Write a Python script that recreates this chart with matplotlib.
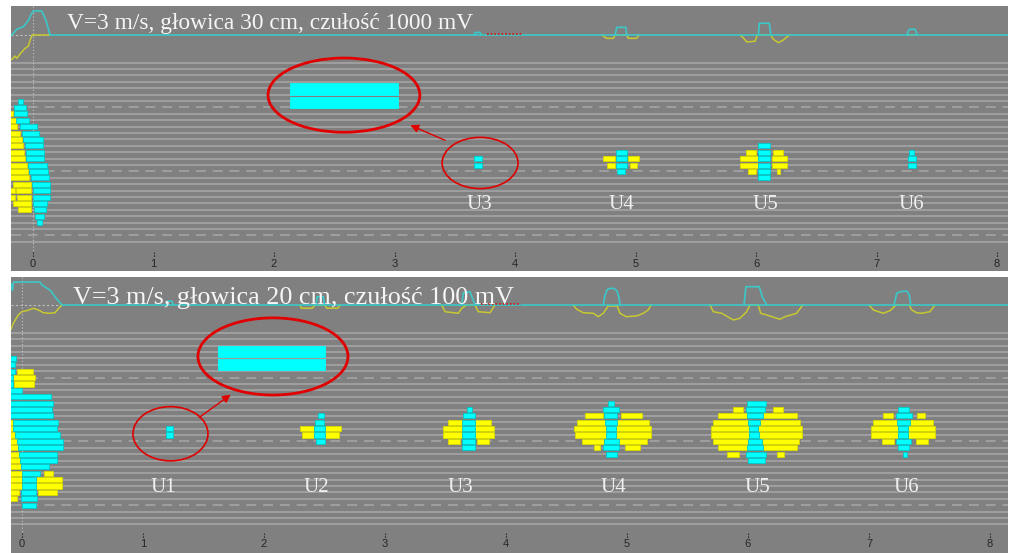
import matplotlib
matplotlib.use('Agg')
import matplotlib.pyplot as plt
from matplotlib.patches import Ellipse

# ---------------- panel gorny: glowica 30 cm, czulosc 1000 mV
top_title = 'V=3 m/s, głowica 30 cm, czułość 1000 mV'
top_grid_rows = list(range(0, 29))
top_dashed_rows = [7, 17, 27]

# (wiersz, x_od, x_do)
top_cyan = [
    (6, -0.122, -0.085), (7, -0.158, -0.058), (8, -0.155, -0.052), (9, -0.141, -0.031),
    (10, -0.108, 0.031), (11, -0.094, 0.052), (12, -0.080, 0.080), (13, -0.066, 0.085),
    (14, -0.061, 0.091), (15, -0.058, 0.091), (16, -0.039, 0.114), (17, -0.031, 0.127),
    (18, -0.019, 0.135), (19, -0.011, 0.141), (20, -0.002, 0.141), (21, 0.002, 0.141),
    (22, 0.002, 0.114), (23, 0.008, 0.108), (24, 0.017, 0.091), (25, 0.036, 0.077),
    # U3
    (15, 3.663, 3.722), (16, 3.663, 3.722),
    # U4
    (14, 4.836, 4.925), (15, 4.836, 4.925), (16, 4.836, 4.925), (17, 4.848, 4.915),
    # U5
    (13, 6.02, 6.12), (14, 6.02, 6.12), (15, 6.02, 6.12), (16, 6.02, 6.12),
    (17, 6.02, 6.12), (18, 6.02, 6.12),
    # U6
    (14, 7.27, 7.31), (15, 7.26, 7.33), (16, 7.26, 7.33),
]
top_yellow = [
    (8, -0.2, -0.163), (9, -0.2, -0.135), (10, -0.2, -0.130), (11, -0.2, -0.108),
    (12, -0.2, -0.094), (13, -0.2, -0.080), (14, -0.2, -0.075), (15, -0.2, -0.066),
    (16, -0.2, -0.052), (17, -0.2, -0.039), (18, -0.2, -0.031), (19, -0.169, -0.019),
    (20, -0.2, -0.149), (20, -0.141, -0.019), (21, -0.2, -0.149), (21, -0.135, -0.019),
    (22, -0.163, -0.019), (23, -0.122, -0.019),
    # U4
    (15, 4.73, 4.83), (16, 4.76, 4.83), (15, 4.94, 5.03), (16, 4.95, 5.01),
    # U5
    (14, 5.92, 6.00), (14, 6.14, 6.22), (15, 5.87, 6.02), (15, 6.13, 6.26),
    (16, 5.87, 6.02), (16, 6.13, 6.26), (17, 5.93, 6.00), (17, 6.17, 6.20),
]
# powiekszenie U3 w elipsie
top_zoom_bars = [(4.1, 2.133, 3.029), (6.25, 2.133, 3.029)]

# obwiednie A-scan (x, amplituda w wierszach)
top_cyan_env = [
    ([-0.177, -0.135, -0.080, -0.039, -0.019, 0.002, 0.072, 0.108, 0.141],
     [0, 0.89, 1.3, 2.25, 3.13, 3.75, 3.75, 2.25, 0]),
    ([3.66, 3.67, 3.71, 3.72], [0, 0.4, 0.4, 0]),
    ([4.830, 4.844, 4.919, 4.927], [0, 1.2, 1.2, 0]),
    ([6.019, 6.027, 6.110, 6.122], [0, 1.83, 1.83, 0]),
    ([7.251, 7.272, 7.320, 7.339], [0, 0.89, 0.89, 0]),
]
top_yellow_env = [
    ([-0.177, -0.149, -0.135, -0.108, -0.066, -0.039, -0.019, -0.006, 0.141],
     [-3.84, -3.3, -3.64, -2.97, -2.08, -1.72, -0.52, 0, 0]),
    ([4.72, 4.761, 4.816, 4.830, 4.927, 4.940, 5.010, 5.029],
     [0, -0.52, -0.52, 0, 0, -0.52, -0.52, 0]),
    ([5.867, 5.890, 5.923, 5.992, 6.011, 6.122, 6.144, 6.185, 6.227, 6.276],
     [0, -0.36, -1.09, -0.98, 0, 0, -0.67, -1.2, -0.78, 0]),
    ([7.251, 7.339], [0, 0]),
]
top_red_dots = [3.77, 4.06]
top_labels = ['U3', 'U4', 'U5', 'U6']
top_label_x = [3.70, 4.88, 6.08, 7.29]

# ---------------- panel dolny: glowica 20 cm, czulosc 100 mV
bot_title = 'V=3 m/s, głowica 20 cm, czułość 100 mV'
bot_grid_rows = list(range(0, 31))
bot_dashed_rows = [7, 17, 27]

bot_cyan = [
    (4, -0.1, -0.050), (5, -0.1, -0.058), (6, -0.1, -0.058), (7, -0.1, -0.072),
    (8, -0.1, -0.072), (9, -0.1, -0.002), (10, -0.1, 0.237), (11, -0.1, 0.259),
    (12, -0.1, 0.245), (13, -0.1, 0.254), (14, -0.077, 0.300), (15, -0.072, 0.292),
    (16, -0.058, 0.314), (17, -0.044, 0.336), (18, -0.031, 0.336), (19, -0.022, 0.292),
    (20, -0.017, 0.287), (21, -0.011, 0.226), (22, -0.002, 0.149), (23, -0.002, 0.116),
    (24, -0.002, 0.116), (25, -0.011, 0.116), (26, -0.011, 0.126), (27, 0.002, 0.116),
    # U1
    (15, 1.19, 1.25), (16, 1.19, 1.25),
    # U2
    (13, 2.449, 2.496), (14, 2.421, 2.496), (15, 2.416, 2.504), (16, 2.416, 2.504),
    (17, 2.430, 2.504),
    # U3
    (12, 3.680, 3.716), (13, 3.647, 3.740), (14, 3.634, 3.744), (15, 3.634, 3.744),
    (16, 3.634, 3.744), (17, 3.634, 3.744), (18, 3.634, 3.740),
    # U4
    (11, 4.846, 4.893), (12, 4.804, 4.934), (13, 4.810, 4.920), (14, 4.818, 4.915),
    (15, 4.826, 4.909), (16, 4.826, 4.909), (17, 4.810, 4.934), (18, 4.804, 4.937),
    (19, 4.826, 4.920),
    # U5
    (11, 5.994, 6.149), (12, 5.983, 6.140), (13, 5.994, 6.127), (14, 6.003, 6.099),
    (15, 6.011, 6.085), (16, 6.011, 6.093), (17, 6.003, 6.113), (18, 5.989, 6.121),
    (19, 5.983, 6.149), (20, 6.003, 6.140),
    # U6
    (12, 7.242, 7.333), (13, 7.223, 7.353), (14, 7.229, 7.339), (15, 7.242, 7.325),
    (16, 7.242, 7.325), (17, 7.223, 7.344), (18, 7.242, 7.333), (19, 7.278, 7.317),
]
bot_yellow = [
    (6, -0.044, 0.088), (7, -0.072, 0.107), (8, -0.066, 0.099),
    (14, -0.1, -0.077), (15, -0.1, -0.072), (16, -0.1, -0.058), (17, -0.1, -0.044),
    (18, -0.1, -0.031), (19, -0.1, -0.022), (20, -0.1, -0.017), (21, -0.1, -0.011),
    (22, -0.1, -0.002), (22, 0.184, 0.259), (23, -0.1, -0.002), (23, 0.116, 0.328),
    (24, -0.1, -0.002), (24, 0.116, 0.328), (25, -0.1, -0.022), (25, 0.135, 0.287),
    (26, -0.1, -0.044),
    # U2
    (15, 2.298, 2.416), (15, 2.504, 2.634), (16, 2.311, 2.416), (16, 2.504, 2.622),
    # U3
    (14, 3.523, 3.634), (14, 3.744, 3.873), (15, 3.482, 3.634), (15, 3.744, 3.901),
    (16, 3.482, 3.634), (16, 3.744, 3.901), (17, 3.523, 3.620), (17, 3.763, 3.862),
    # U4
    (13, 4.653, 4.804), (13, 4.950, 5.121), (14, 4.589, 4.818), (14, 4.915, 5.182),
    (15, 4.562, 4.826), (15, 4.909, 5.196), (16, 4.573, 4.826), (16, 4.909, 5.196),
    (17, 4.626, 4.810), (17, 4.934, 5.163), (18, 4.730, 4.777), (18, 4.983, 5.107),
    # U5
    (12, 5.879, 5.956), (12, 6.204, 6.292), (13, 5.749, 5.994), (13, 6.127, 6.407),
    (14, 5.708, 6.003), (14, 6.099, 6.430), (15, 5.691, 6.011), (15, 6.085, 6.444),
    (16, 5.691, 6.011), (16, 6.093, 6.444), (17, 5.708, 6.003), (17, 6.113, 6.424),
    (18, 5.749, 5.989), (18, 6.121, 6.402), (19, 5.824, 5.928), (19, 6.242, 6.298),
    # U6
    (13, 7.118, 7.196), (13, 7.394, 7.463), (14, 7.036, 7.229), (14, 7.339, 7.532),
    (15, 7.014, 7.242), (15, 7.325, 7.545), (16, 7.014, 7.242), (16, 7.325, 7.545),
    (17, 7.105, 7.207), (17, 7.388, 7.490),
]
bot_zoom_bars = [(2.9, 1.622, 2.504), (5.0, 1.622, 2.504)]

bot_cyan_env = [
    ([-0.091, -0.080, -0.070, 0.149, 0.165, 0.231, 0.273, 0.331],
     [3.3, 2.3, 3.6, 3.6, 3.13, 2.35, 1.25, 0]),
    ([1.19, 1.20, 1.24, 1.25], [0, 0.6, 0.6, 0]),
    ([2.43, 2.44, 2.49, 2.50], [0, 1.3, 1.3, 0]),
    ([3.634, 3.647, 3.702, 3.744], [0, 1.88, 2.09, 0]),
    ([4.804, 4.818, 4.835, 4.860, 4.893, 4.917, 4.934, 4.942],
     [0, 1.5, 2.4, 2.6, 2.6, 2.2, 1.2, 0]),
    ([5.967, 5.983, 6.093, 6.12, 6.155], [0, 2.87, 2.87, 1.2, 0]),
    ([7.207, 7.229, 7.256, 7.312, 7.333, 7.345], [0, 1.83, 2.08, 2.19, 1.57, 0]),
]
bot_yellow_env = [
    ([-0.091, -0.072, -0.031, -0.002, 0.039, 0.093, 0.135, 0.176, 0.231, 0.273, 0.328],
     [-3.81, -2.87, -1.57, -1.05, -0.89, -0.52, -0.78, -1.21, -1.30, -1.21, 0]),
    ([2.298, 2.31, 2.40, 2.42, 2.50, 2.52, 2.61, 2.63],
     [0, -0.5, -0.5, 0, 0, -0.5, -0.5, 0]),
    ([3.469, 3.496, 3.606, 3.634, 3.675, 3.744, 3.771, 3.868, 3.909],
     [0, -1.05, -1.3, -0.52, 0, 0, -1.05, -1.21, 0]),
    ([4.556, 4.584, 4.639, 4.722, 4.763, 4.804, 4.845, 4.920, 4.942, 4.992, 5.080,
      5.135, 5.176, 5.198],
     [0, -0.67, -1.21, -1.30, -1.83, -1.30, -0.16, -0.16, -1.30, -1.83, -1.72,
      -1.30, -0.78, 0]),
    ([5.686, 5.713, 5.783, 5.879, 5.934, 5.989, 6.017, 6.085, 6.105, 6.155, 6.264,
      6.306, 6.402, 6.452],
     [0, -1.05, -1.30, -2.35, -2.08, -1.05, 0, 0, -1.30, -1.57, -2.24, -1.83, -1.30, 0]),
    ([7.002, 7.036, 7.118, 7.174, 7.223, 7.333, 7.353, 7.394, 7.436, 7.504, 7.545],
     [0, -0.78, -1.30, -0.89, 0, 0, -0.78, -1.21, -1.30, -1.05, 0]),
]
bot_red_dots = [3.79, 4.12]
bot_labels = ['U1', 'U2', 'U3', 'U4', 'U5', 'U6']
bot_label_x = [1.17, 2.435, 3.62, 4.884, 6.074, 7.306]

ticks = [0, 1, 2, 3, 4, 5, 6, 7, 8]

BG = '#808080'
GRIDC = '#a8a8a8'
CYAN = '#00ffff'
YELLOW = '#ffff00'


def bars(ax, items, color, edge, h=0.8):
    rows = [b[0] for b in items]
    left = [b[1] for b in items]
    width = [b[2] - b[1] for b in items]
    ax.barh(rows, width, left=left, height=h, color=color, edgecolor=edge,
            linewidth=0.6, zorder=4)


def panel(ax, p):
    ax.set_facecolor(BG)
    ax.set_xlim(p['xlim'])
    ax.set_ylim(p['ylim'])
    for s in ax.spines.values():
        s.set_visible(False)
    ax.set_xticks([])
    ax.set_yticks([])

    for r in p['grid']:
        if r in p['dashed']:
            ax.axhline(r, color=GRIDC, lw=1.1, ls=(0, (6.5, 4.5)), zorder=1)
        else:
            ax.axhline(r, color=GRIDC, lw=1.1, zorder=1)

    base = p['base']
    # os x=0 kropkowana
    ax.vlines(0, p['ylim'][1], p['tick_row'][0], colors='#c8c8c8', lw=0.8,
              linestyles=(0, (1, 2)), zorder=2)
    ax.hlines(base, p['xlim'][0], p['cyan_env'][0][0][-1], colors='#c0c0c0', lw=0.8,
              linestyles=(0, (2, 2)), zorder=2)

    for xs, amp in p['yellow_env']:
        ax.plot(xs, [base - a for a in amp], color='#c8c832', lw=1.1, zorder=3)
    ax.hlines(base, p['cyan_env'][0][0][-1], p['xlim'][1], colors='#3cc8c8', lw=1.2,
              zorder=3)
    for xs, amp in p['cyan_env']:
        ax.plot(xs, [base - a for a in amp], color='#3cc8c8', lw=1.2, zorder=3)
    ax.plot(p['red_dots'], [base - 0.15, base - 0.15], color='#d02020', lw=1.3,
            ls=(0, (1, 1)), zorder=3)

    bars(ax, p['yellow'], YELLOW, '#d8d800')
    bars(ax, p['cyan'], CYAN, '#00c8c8')
    bars(ax, p['zoom'], CYAN, CYAN, h=1.75)

    ax.vlines(ticks, p['tick_row'][0], p['tick_row'][1], colors='#303030', lw=0.8,
              linestyles=(0, (1.5, 1)), zorder=2)
    for t in ticks:
        ax.text(t, p['tick_label_row'], str(t), ha='center', va='center', fontsize=8,
                color='#262626', family='Liberation Sans', zorder=5)

    ax.text(p['title_x'], p['title_row'], p['title'], fontsize=p['title_size'],
            family='Liberation Serif', color='#f6f6f6', va='baseline', zorder=6)
    for lab, x in zip(p['labels'], p['label_x']):
        ax.text(x, p['label_row'], lab, fontsize=15, family='Liberation Serif',
                color='#f0f0f0', ha='center', va='center', zorder=6)

    big, small = p['ellipses']
    ax.add_patch(Ellipse(big[0], big[1], big[2], fill=False, ec='#e00000', lw=2.0,
                         zorder=6))
    ax.add_patch(Ellipse(small[0], small[1], small[2], fill=False, ec='#e00000',
                         lw=1.2, zorder=6))
    ax.annotate('', xy=p['arrow'][1], xytext=p['arrow'][0],
                arrowprops=dict(arrowstyle='-|>', color='#e00000', lw=1.0,
                                mutation_scale=12), zorder=6)


fig = plt.figure(figsize=(10.1, 5.53), dpi=100)
fig.patch.set_facecolor('white')

ax1 = fig.add_axes([11 / 1010, 282 / 553, 997 / 1010, 265 / 553])
ax2 = fig.add_axes([11 / 1010, 0, 997 / 1010, 276 / 553])

panel(ax1, dict(
    xlim=(-0.183, 8.091), ylim=(32.55, -8.86), grid=top_grid_rows, dashed=top_dashed_rows,
    base=-4.33, cyan=top_cyan, yellow=top_yellow, zoom=top_zoom_bars,
    cyan_env=top_cyan_env, yellow_env=top_yellow_env, red_dots=top_red_dots,
    tick_row=(29.6, 30.4), tick_label_row=31.4,
    title=top_title, title_x=0.282, title_row=-5.2, title_size=16.8,
    labels=top_labels, label_x=top_label_x, label_row=22.1,
    ellipses=(((2.58, 5.07), 1.26, 11.6), ((3.71, 15.67), 0.63, 8.0)),
    arrow=((3.44, 12.3), (3.11, 9.6)),
))
panel(ax2, dict(
    xlim=(-0.091, 8.149), ylim=(34.5, -8.78), grid=bot_grid_rows, dashed=bot_dashed_rows,
    base=-4.39, cyan=bot_cyan, yellow=bot_yellow, zoom=bot_zoom_bars,
    cyan_env=bot_cyan_env, yellow_env=bot_yellow_env, red_dots=bot_red_dots,
    tick_row=(31.3, 32.2), tick_label_row=33.1,
    title=bot_title, title_x=0.424, title_row=-4.6, title_size=18.8,
    labels=bot_labels, label_x=bot_label_x, label_row=24.2,
    ellipses=(((2.074, 3.68), 1.24, 12.1), ((1.227, 15.8), 0.62, 8.5)),
    arrow=((1.446, 13.5), (1.744, 9.4)),
))

fig.savefig('out.png', dpi=100, facecolor='white')
